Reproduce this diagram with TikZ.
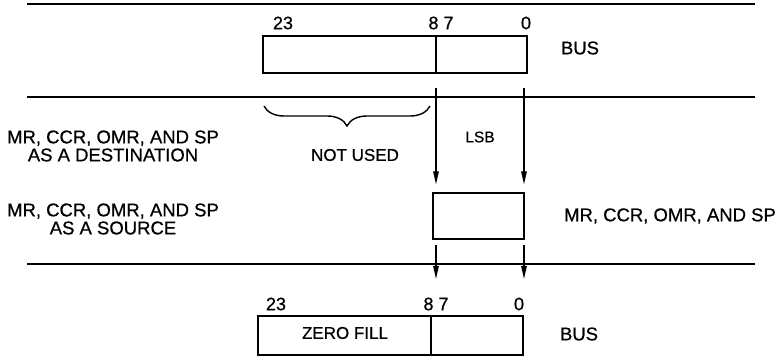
\documentclass[tikz,border=0pt]{standalone}
\usepackage{fontspec}
\setmainfont{Liberation Sans}[FakeBold=0.7]
\usetikzlibrary{arrows.meta,decorations.pathreplacing}
\begin{document}
\begin{tikzpicture}[x=1pt,y=-1pt,
  busline/.style={line width=2pt},
  regbox/.style={draw,line width=1.2pt,inner sep=0pt,minimum width=#1},
  divider/.style={line width=1.3pt},
  flow/.style={line width=1.4pt,-{Triangle[length=13pt,width=5.5pt]}},
  lbl/.style={inner sep=0pt,font=\fontsize{18.5}{18}\selectfont,align=center},
  num/.style={inner sep=0pt,font=\fontsize{18}{18}\selectfont},
  small/.style={inner sep=0pt,font=\fontsize{17}{16}\selectfont},
  tiny/.style={inner sep=0pt,font=\fontsize{15.5}{15}\selectfont}]
\useasboundingbox (0,0) rectangle (782,363);
% horizontal bus lines
\coordinate (l1a) at (27,4);   \coordinate (l1b) at (755,4);
\coordinate (l2a) at (27,97);  \coordinate (l2b) at (755,97);
\coordinate (l3a) at (27,264); \coordinate (l3b) at (755,264);
\draw[busline] (l1a) -- (l1b);
\draw[busline] (l2a) -- (l2b);
\draw[busline] (l3a) -- (l3b);
% top register
\node[regbox=264pt,minimum height=37pt] (topbox) at (395,54.5) {};
\draw[divider] (436,36) -- (436,73);
\node[num] (t23) at (283,23) {23};
\node[num] (t87) at (441,23) {8 7};
\node[num] (t0) at (526,23) {0};
\node[lbl] (tbus) at (580,48) {BUS};
% brace
\draw[line width=1.4pt,decorate,decoration={brace,mirror,amplitude=20pt}] (264,106) -- (430,106);
\node[small] (notused) at (355,155) {NOT USED};
\node[tiny] (lsb) at (480,137) {LSB};
% left labels
\node[lbl] (dest) at (113,146) {MR, CCR, OMR, AND SP\\AS A DESTINATION};
\node[lbl] (src) at (113,219) {MR, CCR, OMR, AND SP\\AS A SOURCE};
% middle register
\node[regbox=91pt,minimum height=46pt] (midbox) at (478.5,216) {};
\node[lbl] (rlbl) at (670,216) {MR, CCR, OMR, AND SP};
% upper arrows
\coordinate (ua1) at (436,88);
\coordinate (ua2) at (524,88);
\draw[flow] (ua1) -- ([yshift=8pt]midbox.north west -| ua1);
\draw[flow] (ua2) -- ([yshift=8pt]midbox.north east -| ua2);
% lower arrows
\coordinate (la1) at (436,245);
\coordinate (la2) at (524,245);
\coordinate (le1) at (436,279);
\coordinate (le2) at (524,279);
\draw[flow] (la1) -- (le1);
\draw[flow] (la2) -- (le2);
% bottom register
\node[regbox=265pt,minimum height=39pt] (botbox) at (390.5,335.5) {};
\draw[divider] (431,316) -- (431,355);
\node[num] (b23) at (276,304) {23};
\node[num] (b87) at (436,304) {8 7};
\node[num] (b0) at (519,304) {0};
\node[small] (zero) at (345,333) {ZERO FILL};
\node[lbl] (bbus) at (579,334) {BUS};
\end{tikzpicture}
\end{document}
